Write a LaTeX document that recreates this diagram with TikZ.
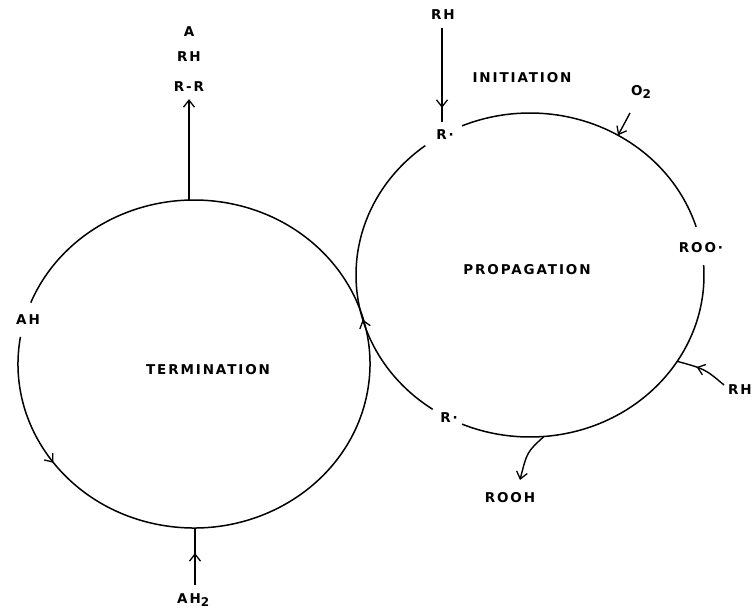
\documentclass[tikz,border=0pt]{standalone}
\usepackage{fontspec}
\setmainfont{DejaVu Sans}
\newfontfamily\lblfont[LetterSpace=14]{DejaVu Sans}
\usetikzlibrary{arrows.meta,decorations.markings,calc}
\tikzset{
  lbl/.style={font=\lblfont\bfseries\fontsize{13.5}{15}\selectfont, inner sep=1pt},
  ring/.style={line width=1.5pt},
  conn/.style={line width=1.4pt},
  barb/.tip={Straight Barb[length=7pt,width=11pt,line width=1.3pt]},
  arrowat/.style={postaction={decorate},
    decoration={markings, mark=at position #1 with {\arrow{barb}}}}
}
\begin{document}
\begin{tikzpicture}[x=1pt,y=-1pt]
\useasboundingbox (0,0) rectangle (753,613);
\fill[white] (0,0) rectangle (753,613);
% centres
\coordinate (lc) at (194,364);
\coordinate (rc) at (530,275);
% ---- left circle (termination)
\draw[ring, arrowat=0.13] (lc) ++(189.5:176 and 164)
  arc[start angle=189.5, end angle=-158, x radius=176, y radius=164];
% ---- right circle (propagation)
\draw[ring] (rc) ++(247:174 and 162)
  arc[start angle=247, end angle=342.7, x radius=174, y radius=162];
\draw[ring] (rc) ++(356.5:174 and 162)
  arc[start angle=356.5, end angle=473, x radius=174, y radius=162];
\draw[ring, arrowat=0.37] (rc) ++(124:174 and 162)
  arc[start angle=124, end angle=233, x radius=174, y radius=162];
% labels
\node[lbl] (a)    at (189,32) {A};
\node[lbl] (rhl)  at (189,57) {RH};
\node[lbl] (rr)   at (189,87) {R-R};
\node[lbl] (rht)  at (443,15) {RH};
\node[lbl] (init) at (522,78) {INITIATION};
\node[lbl, anchor=west] (o2) at (630,92) {O\raisebox{-0.4ex}{\fontsize{12}{13}\selectfont 2}};
\node[lbl] (rtop) at (445,135) {R·};
\node[lbl] (roo)  at (701,248) {ROO·};
\node[lbl] (prop) at (527,270) {PROPAGATION};
\node[lbl, anchor=east] (rhr) at (753,390) {RH};
\node[lbl] (rbot) at (449,418) {R·};
\node[lbl] (rooh) at (510,498) {ROOH};
\node[lbl] (term) at (208,370) {TERMINATION};
\node[lbl] (ah)   at (28,320) {AH};
\node[lbl, anchor=west] (ah2) at (176,600) {AH\raisebox{-0.4ex}{\fontsize{12}{13}\selectfont 2}};
% connection points
\coordinate (ltop) at (189,200);
\coordinate (lbot) at (195,528);
\coordinate (o2s)  at (630,113);
\coordinate (o2hit) at ($(rc)+(300.4:174 and 162)$);
\coordinate (rhs)  at (724,385);
\coordinate (rhhit) at ($(rc)+(32.2:174 and 162)$);
\coordinate (roohs) at ($(rc)+(85.4:174 and 162)$);
\coordinate (roohe) at (520,480);
% connectors
\draw[conn, -{barb}, shorten >=6pt] (ltop) -- (rr.south);
\draw[conn, arrowat=0.85] (442,28) -- (442,122);
\draw[conn, -{barb}] (o2s) -- (o2hit);
\draw[conn, arrowat=0.62] (rhs) .. controls (705,369) .. (rhhit);
\draw[conn, -{barb}] (roohs) .. controls (527,452) .. (roohe);
\draw[conn, arrowat=0.56] (195,585) -- (lbot);
\end{tikzpicture}
\end{document}
